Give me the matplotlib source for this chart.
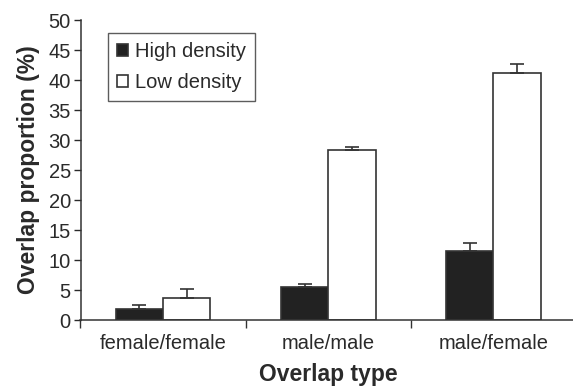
import matplotlib
matplotlib.use("Agg")
import matplotlib.pyplot as plt
import numpy as np

categories = ["female/female", "male/male", "male/female"]
high_density = [1.9, 5.55, 11.55]
high_err = [0.65, 0.45, 1.3]
low_density = [3.6, 28.3, 41.2]
low_err = [1.55, 0.55, 1.5]
yticks = [0, 5, 10, 15, 20, 25, 30, 35, 40, 45, 50]

plt.rcParams['font.family'] = ['Liberation Sans', 'DejaVu Sans']
txt = '#2a2a2a'

fig = plt.figure(figsize=(5.73, 3.88), dpi=100)
ax = fig.add_axes([80.5/573, 1-320/388, (576-80.5)/573, 300/388])

x = np.arange(len(categories))
w = 0.287
ax.bar(x - w/2, high_density, w, color='#222222', edgecolor='#333333', linewidth=1.2,
       yerr=[np.zeros(3), high_err], error_kw=dict(ecolor='#333333', elinewidth=1.2, capsize=5, capthick=1.2),
       label='High density', zorder=2)
ax.bar(x + w/2, low_density, w, color='white', edgecolor='#333333', linewidth=1.2,
       yerr=[np.zeros(3), low_err], error_kw=dict(ecolor='#333333', elinewidth=1.2, capsize=5, capthick=1.2),
       label='Low density', zorder=2)

ax.set_xlim(-0.5, 2.5)
ax.set_ylim(0, 50)
ax.set_yticks(yticks)
ax.tick_params(axis='y', labelsize=14.5, colors=txt, length=5, width=1, direction='out', pad=2)
ax.set_xticks([-0.5, 0.5, 1.5, 2.5])
ax.set_xticklabels([])
ax.set_xticks(x, minor=True)
ax.set_xticklabels(categories, minor=True)
ax.tick_params(axis='x', which='major', length=6, width=1, colors='#333333', direction='out')
ax.tick_params(axis='x', which='minor', length=0, labelsize=14.5, labelcolor=txt, pad=10)
for s in ['top', 'right']:
    ax.spines[s].set_visible(False)
for s in ['left', 'bottom']:
    ax.spines[s].set_color('#333333')
    ax.spines[s].set_linewidth(1.1)

ax.set_ylabel('Overlap proportion (%)', fontsize=16.5, fontweight='bold', color=txt, labelpad=6)
ax.set_xlabel('Overlap type', fontsize=16.5, fontweight='bold', color=txt, labelpad=7)

leg = ax.legend(loc='upper left', bbox_to_anchor=((108-80.5)/573/ax.get_position().width, 1 + (20-33)/300),
                bbox_transform=ax.transAxes,
                fontsize=14.5, frameon=True, fancybox=False, edgecolor='#333333',
                handlelength=0.55, handleheight=0.55, handletextpad=0.35, borderpad=0.45,
                labelspacing=0.6, borderaxespad=0)
for t in leg.get_texts():
    t.set_color(txt)
leg.get_frame().set_linewidth(1.0)

fig.savefig('out.png', dpi=100)
